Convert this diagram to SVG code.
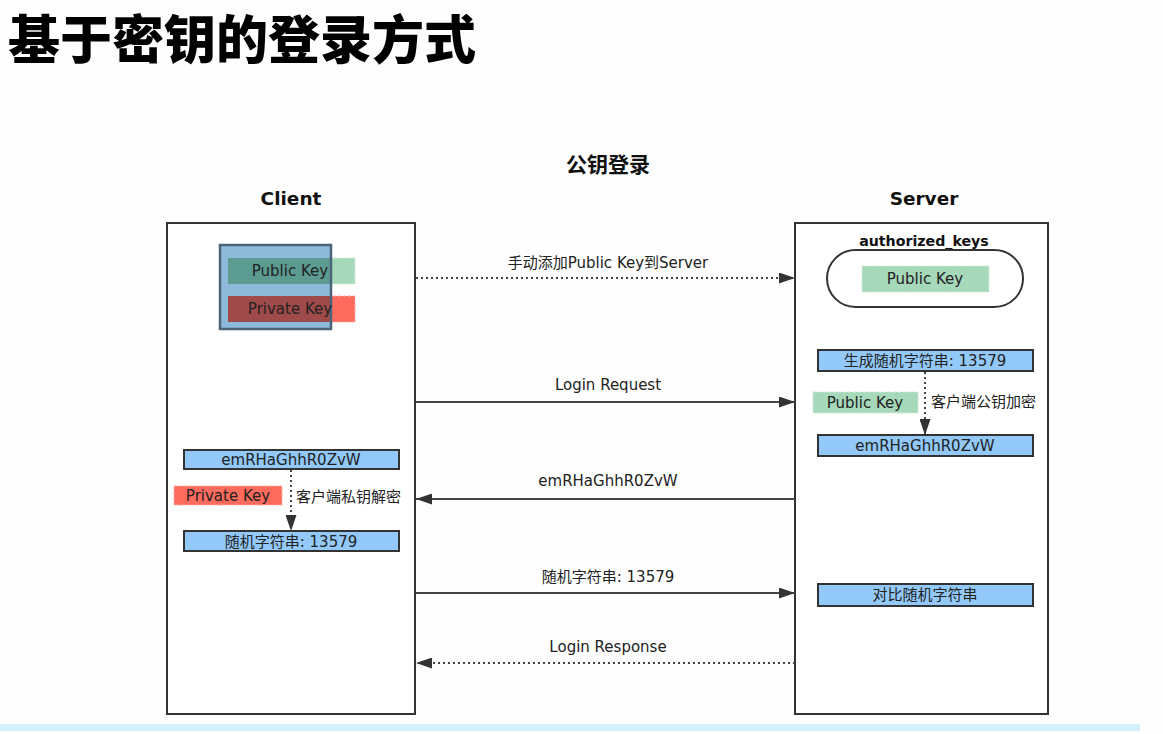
<svg xmlns="http://www.w3.org/2000/svg" width="1163" height="734" viewBox="0 0 1163 734">
<defs>
<style>
.t{font-family:"DejaVu Sans","Noto Sans CJK SC",sans-serif;font-size:15px;fill:#222;text-anchor:middle;dominant-baseline:central}
.tl{text-anchor:start}
.b{font-weight:bold;fill:#111}
.life{fill:#fff;stroke:#333;stroke-width:2}
.box{fill:#92c9f9;stroke:#333;stroke-width:2}
.green{fill:#a6d8ba;stroke:#cfe9d8;stroke-width:1.2;stroke-dasharray:3 2}
.red{fill:#ff6b5c;stroke:#ffb0a8;stroke-width:1.2;stroke-dasharray:3 2}
.ln{stroke:#444;stroke-width:2;fill:none}
.dot{stroke-dasharray:2 3}
</style>
<marker id="ah" viewBox="0 0 16 11" refX="16" refY="5.5" markerWidth="16" markerHeight="11" markerUnits="userSpaceOnUse" orient="auto">
<path d="M0,0 L16,5.5 L0,11 Z" fill="#333"/>
</marker>
</defs>
<rect width="1163" height="734" fill="#fdfefd"/>
<rect x="0" y="724" width="1140" height="7" fill="#d4f0fc"/>

<text id="title" x="8" y="59" style="font-family:'Noto Sans CJK SC',sans-serif;font-size:52px;font-weight:900;fill:#000">基于密钥的登录方式</text>
<text class="t b" x="608" y="165" style="font-size:21px">公钥登录</text>

<g id="client">
<text class="t b" x="291" y="198" style="font-size:18.5px">Client</text>
<rect class="life" x="167" y="223" width="248" height="491"/>
</g>
<g id="server">
<text class="t b" x="924" y="198" style="font-size:18.5px">Server</text>
<rect class="life" x="795" y="223" width="253" height="491"/>
</g>

<g id="client-keys">
<rect class="green" x="228" y="258" width="127" height="26"/>
<rect class="red" x="228" y="296" width="127" height="26"/>
<rect x="220" y="245" width="111" height="84" fill="#8dbadb"/>
<rect x="228" y="258" width="103" height="26" fill="#5c9b91"/>
<rect x="228" y="296" width="103" height="26" fill="#9f4a4b"/>
<rect x="220" y="245" width="111" height="84" fill="none" stroke="#4b6478" stroke-width="2.5"/>
<text class="t" x="290" y="271">Public Key</text>
<text class="t" x="290" y="309">Private Key</text>
</g>

<g id="authorized-keys">
<text class="t b" x="924" y="241" style="font-size:14.2px">authorized_keys</text>
<rect x="827" y="250" width="196" height="57" rx="28.5" fill="#fff" stroke="#333" stroke-width="2"/>
<rect class="green" x="862" y="266" width="127" height="26"/>
<text class="t" x="925" y="279">Public Key</text>
</g>

<g id="srv-gen">
<rect class="box" x="818" y="350" width="215" height="21"/>
<text class="t" x="925" y="360.5">生成随机字符串: 13579</text>
</g>
<g id="srv-pubkey">
<rect class="green" x="813" y="392" width="105" height="21"/>
<text class="t" x="865" y="402.5">Public Key</text>
</g>
<text class="t tl" x="931" y="402">客户端公钥加密</text>
<g id="srv-enc">
<rect class="box" x="818" y="435" width="215" height="21"/>
<text class="t" x="925" y="445.5">emRHaGhhR0ZvW</text>
</g>
<g id="srv-cmp">
<rect class="box" x="818" y="584" width="215" height="22"/>
<text class="t" x="925" y="595">对比随机字符串</text>
</g>

<g id="cli-enc">
<rect class="box" x="184" y="450" width="215" height="19"/>
<text class="t" x="291" y="459.5">emRHaGhhR0ZvW</text>
</g>
<g id="cli-privkey">
<rect class="red" x="174" y="486" width="108" height="19"/>
<text class="t" x="228" y="495.5">Private Key</text>
</g>
<text class="t tl" x="296" y="497">客户端私钥解密</text>
<g id="cli-dec">
<rect class="box" x="184" y="531" width="215" height="20"/>
<text class="t" x="291" y="541.5">随机字符串: 13579</text>
</g>

<g id="connectors">
<line class="ln dot" x1="416" y1="278" x2="795" y2="278" marker-end="url(#ah)"/>
<text class="t" x="608" y="263">手动添加Public Key到Server</text>
<line class="ln" x1="416" y1="402" x2="795" y2="402" marker-end="url(#ah)"/>
<text class="t" x="608" y="385">Login Request</text>
<line class="ln" x1="795" y1="499" x2="416" y2="499" marker-end="url(#ah)"/>
<text class="t" x="608" y="481">emRHaGhhR0ZvW</text>
<line class="ln" x1="416" y1="593" x2="795" y2="593" marker-end="url(#ah)"/>
<text class="t" x="608" y="577">随机字符串: 13579</text>
<line class="ln dot" x1="795" y1="663" x2="416" y2="663" marker-end="url(#ah)"/>
<text class="t" x="608" y="647">Login Response</text>
<line class="ln dot" x1="925" y1="372" x2="925" y2="435" marker-end="url(#ah)"/>
<line class="ln dot" x1="291" y1="470" x2="291" y2="531" marker-end="url(#ah)"/>
</g>
</svg>
